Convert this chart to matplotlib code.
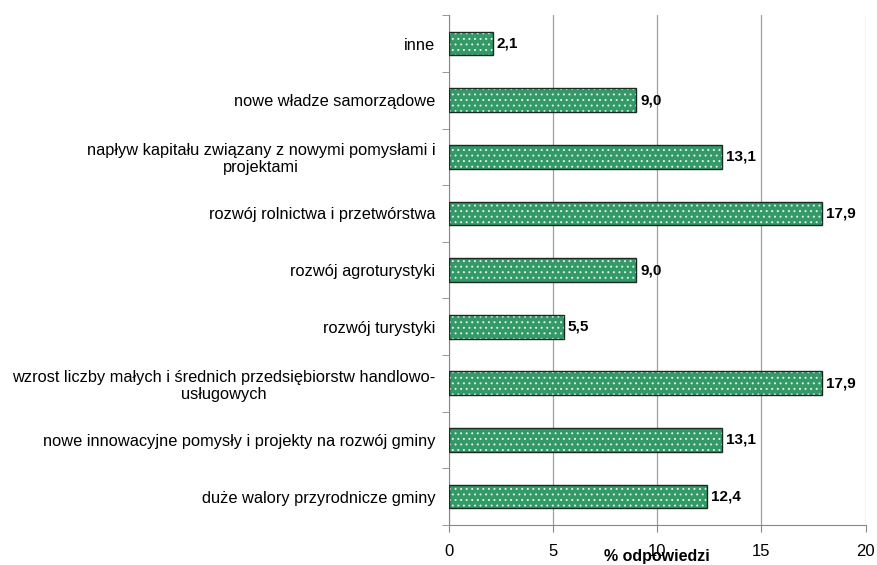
import numpy as np
import matplotlib.pyplot as plt

plt.rcParams['font.family'] = ['Liberation Sans', 'DejaVu Sans']
plt.rcParams['hatch.linewidth'] = 0.7

# data, bottom to top
labels = ['duże walory przyrodnicze gminy',
          'nowe innowacyjne pomysły i projekty na rozwój gminy',
          'wzrost liczby małych i średnich przedsiębiorstw handlowo-\nusługowych',
          'rozwój turystyki',
          'rozwój agroturystyki',
          'rozwój rolnictwa i przetwórstwa',
          'napływ kapitału związany z nowymi pomysłami i\nprojektami',
          'nowe władze samorządowe',
          'inne']
values = [12.4, 13.1, 17.9, 5.5, 9.0, 17.9, 13.1, 9.0, 2.1]
xticks = [0, 5, 10, 15, 20]

green = '#339966'

fig = plt.figure(figsize=(8.77, 5.65), dpi=100)
ax = fig.add_axes([0.512, 0.071, 0.475, 0.902])

y = np.arange(len(values))
# fill with white pattern, then dark outline on top
ax.barh(y, values, height=0.42, color=green, edgecolor='#dff2e8', hatch='...', linewidth=0, zorder=3)
ax.barh(y, values, height=0.42, fill=False, edgecolor='#1a2a20', linewidth=1.0, zorder=4)

for yi, v in zip(y, values):
    ax.text(v + 0.2, yi, f'{v:.1f}'.replace('.', ','), va='center', ha='left',
            fontsize=11, fontweight='bold')

ax.set_xlim(0, 20)
ax.set_ylim(-0.5, len(values) - 0.5)
ax.set_xticks(xticks)
ax.set_xticklabels([str(t) for t in xticks], fontsize=12)
ax.set_yticks(y)
ax.set_yticklabels(labels, fontsize=11.8, multialignment='center', linespacing=1.15)
ax.set_yticks(np.arange(len(values) + 1) - 0.5, minor=True)
ax.tick_params(axis='y', which='major', length=0, pad=10)
ax.tick_params(axis='y', which='minor', length=5, color='#888888')
ax.tick_params(axis='x', length=5, color='#888888', pad=9)

ax.xaxis.grid(True, color='#a0a0a0', linewidth=0.9, zorder=0)
for s in ['top', 'right']:
    ax.spines[s].set_visible(False)
ax.spines['left'].set_color('#888888')
ax.spines['bottom'].set_color('#888888')

ax.set_xlabel('% odpowiedzi', fontsize=11.5, fontweight='bold', va='center')
ax.xaxis.set_label_coords(0.5, -0.063)

fig.savefig('out.png', dpi=100)
